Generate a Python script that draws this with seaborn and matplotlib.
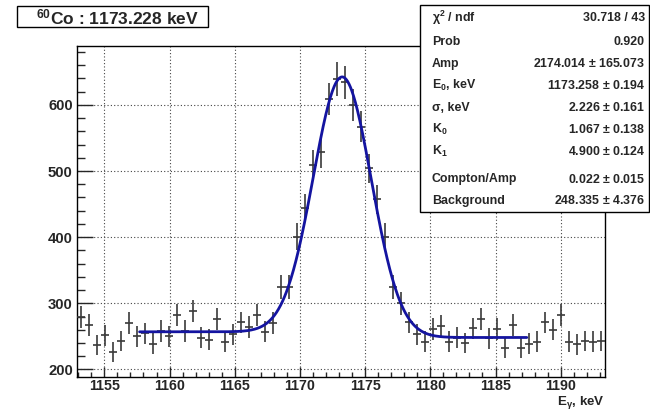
import math
import numpy as np
import pandas as pd
import matplotlib
matplotlib.use("Agg")
import matplotlib.pyplot as plt
from matplotlib.patches import Rectangle
from matplotlib.ticker import MultipleLocator
import seaborn as sns

# Histogram binning (keV)
E_LO = 1152.9
BIN_W = 0.6136
# Counts per bin
counts = [279, 267, 237, 252, 226, 243, 270, 250, 255, 239, 258, 250, 282, 258,
          288, 248, 245, 276, 242, 253, 271, 264, 282, 257, 270, 325, 325, 401,
          444, 509, 528, 609, 639, 634, 600, 567, 504, 457, 401, 325, 300, 271,
          253, 242, 261, 266, 242, 248, 240, 262, 276, 247, 261, 233, 267, 233,
          239, 242, 271, 260, 282, 242, 238, 243, 242, 243]

# Fit results
fit_names = ["Amp", "E$_0$, keV", "σ, keV", "K$_0$", "K$_1$", "Compton/Amp", "Background"]
fit_values = [2174.014, 1173.258, 2.226, 1.067, 4.900, 0.022, 248.335]
fit_errors = [165.073, 0.194, 0.161, 0.138, 0.124, 0.015, 4.376]
chi2, ndf, prob = 30.718, 43, 0.920
fit_range = [1157.7, 1187.4]
title = "$^{60}$Co : 1173.228 keV"

sns.set_style("white")
plt.rcParams["font.family"] = ["Liberation Sans", "DejaVu Sans"]
plt.rcParams["font.weight"] = "bold"
plt.rcParams["mathtext.fontset"] = "custom"
plt.rcParams["mathtext.rm"] = "Liberation Sans:bold"
plt.rcParams["mathtext.it"] = "Liberation Sans:bold"
plt.rcParams["mathtext.bf"] = "Liberation Sans:bold"
plt.rcParams["mathtext.default"] = "rm"

W, H = 650, 411
fig = plt.figure(figsize=(W / 100, H / 100), dpi=100)
ax = fig.add_axes([77 / W, 1 - 377 / H, (605 - 77) / W, (377 - 46) / H])

centers = E_LO + BIN_W * (np.arange(len(counts)) + 0.5)
y = np.array(counts, dtype=float)
df = pd.DataFrame({"E": centers, "N": y})

ax.errorbar(df["E"], df["N"], xerr=BIN_W / 2, yerr=np.sqrt(df["N"]),
            fmt="none", ecolor="#3a3a3a", elinewidth=1.2, capsize=0, zorder=3)

# Fit model: gaussian peak + Compton step + flat background
amp, e0, sig, k0, k1, comp, bkg = fit_values
height = amp / (math.sqrt(2 * math.pi) * sig)
ex = np.linspace(fit_range[0], fit_range[1], 600)
t = (ex - e0) / sig
step = np.array([0.5 * math.erfc(v / math.sqrt(2)) for v in t])
fy = bkg + height * np.exp(-0.5 * t ** 2) + comp * height * step
sns.lineplot(x=ex, y=fy, ax=ax, color="#1414a0", linewidth=2.0, zorder=4)

ax.set_xlim(E_LO, E_LO + BIN_W * len(counts))
ax.set_ylim(188.6, 689)
ax.xaxis.set_major_locator(MultipleLocator(5))
ax.xaxis.set_minor_locator(MultipleLocator(1))
ax.yaxis.set_major_locator(MultipleLocator(100))
ax.yaxis.set_minor_locator(MultipleLocator(20))
ax.tick_params(axis="x", which="major", direction="in", length=7.5, width=1,
               labelsize=10.3, pad=1.5, bottom=True, top=False)
ax.tick_params(axis="x", which="minor", direction="in", length=3.8, width=1,
               bottom=True, top=False)
ax.tick_params(axis="y", which="major", direction="in", length=11.5, width=1,
               labelsize=10.7, pad=3, left=True, right=False)
ax.tick_params(axis="y", which="minor", direction="in", length=5.7, width=1,
               left=True, right=False)
for lab in ax.get_xticklabels() + ax.get_yticklabels():
    lab.set_fontweight("bold")
ax.grid(True, which="major", color="#444444", linestyle=(0, (1, 2)), linewidth=0.8)
for s in ax.spines.values():
    s.set_color("black")
    s.set_linewidth(1.0)
ax.set_xlabel("")
ax.set_ylabel("")

# Axis title tucked just under the last tick label
fig.canvas.draw()
renderer = fig.canvas.get_renderer()
tick_bottom = min(lab.get_window_extent(renderer).y0
                  for lab in ax.get_xticklabels() if lab.get_text())
fig.text(605 / W, (tick_bottom - 0.5) / H, "E$_{γ}$, keV", ha="right", va="top",
         fontsize=9.6, fontweight="bold")

# Title box
fig.patches.append(Rectangle((17 / W, 1 - 27 / H), (208 - 17) / W, 21 / H,
                             transform=fig.transFigure, facecolor="white",
                             edgecolor="black", linewidth=1.0, zorder=5))
fig.text(117 / W, 1 - 17 / H, title, ha="center", va="center",
         fontsize=12.5, fontweight="bold", zorder=6)

# Statistics box
fig.patches.append(Rectangle((420 / W, 1 - 212 / H), (649 - 420) / W, 207 / H,
                             transform=fig.transFigure, facecolor="white",
                             edgecolor="black", linewidth=1.0, zorder=5))
rows = [("χ$^2$ / ndf", f"{chi2:.3f} / {ndf}"), ("Prob", f"{prob:.3f}")]
rows += [(n, f"{v:.3f} $\\pm$ {e:.3f}") for n, v, e in zip(fit_names, fit_values, fit_errors)]
row_y = [18, 42, 63.5, 85.5, 107.5, 129.5, 151.5, 179, 201]
for (name, val), ry in zip(rows, row_y):
    fig.text(432 / W, 1 - ry / H, name, ha="left", va="center",
             fontsize=8.9, fontweight="bold", zorder=6)
    fig.text(645 / W, 1 - ry / H, val, ha="right", va="center",
             fontsize=8.9, fontweight="bold", zorder=6)

fig.savefig("out.png", dpi=100)
